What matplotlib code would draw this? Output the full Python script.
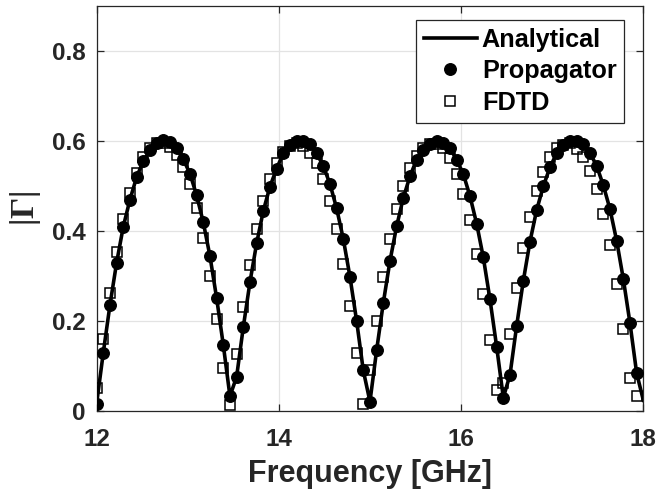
import numpy as np
import matplotlib
matplotlib.use("Agg")
import matplotlib.pyplot as plt

# Frequency sweep: 12-18 GHz, 82 equal steps
freq_line = np.linspace(12.0, 18.0, 83)
freq_pts = freq_line[:-1]

gamma_analytical = [
    0.017, 0.130, 0.236, 0.330, 0.410, 0.470, 0.520, 0.556, 0.580, 0.596,
    0.602, 0.598, 0.584, 0.560, 0.528, 0.480, 0.420, 0.345, 0.252, 0.148,
    0.034, 0.077, 0.187, 0.287, 0.373, 0.445, 0.499, 0.539, 0.573, 0.591,
    0.600, 0.601, 0.593, 0.573, 0.545, 0.505, 0.451, 0.383, 0.299, 0.201,
    0.091, 0.022, 0.136, 0.241, 0.334, 0.411, 0.474, 0.522, 0.559, 0.580,
    0.594, 0.601, 0.597, 0.584, 0.559, 0.527, 0.478, 0.417, 0.342, 0.249,
    0.144, 0.031, 0.081, 0.190, 0.290, 0.377, 0.447, 0.500, 0.542, 0.573,
    0.591, 0.601, 0.601, 0.593, 0.574, 0.545, 0.502, 0.449, 0.379, 0.294,
    0.196, 0.085, 0.025,
]

gamma_propagator = [
    0.017, 0.130, 0.236, 0.330, 0.410, 0.470, 0.520, 0.556, 0.580, 0.596,
    0.602, 0.598, 0.584, 0.560, 0.528, 0.480, 0.420, 0.345, 0.252, 0.148,
    0.034, 0.077, 0.187, 0.287, 0.373, 0.445, 0.499, 0.539, 0.573, 0.591,
    0.600, 0.601, 0.593, 0.573, 0.545, 0.505, 0.451, 0.383, 0.299, 0.201,
    0.091, 0.022, 0.136, 0.241, 0.334, 0.411, 0.474, 0.522, 0.559, 0.580,
    0.594, 0.601, 0.597, 0.584, 0.559, 0.527, 0.478, 0.417, 0.342, 0.249,
    0.144, 0.031, 0.081, 0.190, 0.290, 0.377, 0.447, 0.500, 0.542, 0.573,
    0.591, 0.601, 0.601, 0.593, 0.574, 0.545, 0.502, 0.449, 0.379, 0.294,
    0.196, 0.085,
]

gamma_fdtd = [
    0.053, 0.162, 0.264, 0.355, 0.427, 0.486, 0.530, 0.564, 0.584, 0.595,
    0.595, 0.586, 0.569, 0.542, 0.504, 0.451, 0.384, 0.301, 0.205, 0.096,
    0.014, 0.127, 0.232, 0.325, 0.404, 0.467, 0.515, 0.552, 0.575, 0.590,
    0.595, 0.590, 0.573, 0.552, 0.515, 0.468, 0.406, 0.327, 0.235, 0.129,
    0.017, 0.092, 0.201, 0.298, 0.382, 0.449, 0.500, 0.541, 0.567, 0.585,
    0.594, 0.594, 0.585, 0.562, 0.527, 0.483, 0.425, 0.349, 0.261, 0.159,
    0.048, 0.063, 0.173, 0.273, 0.362, 0.432, 0.490, 0.532, 0.564, 0.584,
    0.592, 0.595, 0.582, 0.564, 0.534, 0.493, 0.438, 0.369, 0.283, 0.183,
    0.074, 0.034,
]

x_ticks = [12, 14, 16, 18]
y_ticks = [0, 0.2, 0.4, 0.6, 0.8]
y_tick_labels = ["0", "0.2", "0.4", "0.6", "0.8"]

TXT = "#262626"
plt.rcParams["font.family"] = ["Liberation Sans", "DejaVu Sans"]
plt.rcParams["font.weight"] = "bold"
plt.rcParams["mathtext.fontset"] = "custom"
plt.rcParams["mathtext.rm"] = "Liberation Serif"
plt.rcParams["mathtext.bf"] = "Liberation Serif:bold"

fig = plt.figure(figsize=(6.58, 4.98), dpi=100)
ax = fig.add_axes([0.1468, 0.1737, 0.8309, 0.8143])

ax.plot(freq_line, gamma_analytical, color="black", lw=2.6,
        label="Analytical", zorder=3)
ax.plot(freq_pts, gamma_propagator, ls="none", marker="o", ms=8.3,
        mfc="black", mec="black", label="Propagator", zorder=4)
ax.plot(freq_pts, gamma_fdtd, ls="none", marker="s", ms=7.5,
        mfc="none", mec="black", mew=1.1, label="FDTD", zorder=5)

ax.set_xlim(12, 18)
ax.set_ylim(0, 0.9)
ax.set_xticks(x_ticks)
ax.set_yticks(y_ticks)
ax.set_yticklabels(y_tick_labels)

ax.grid(True, color="#e3e3e3", lw=0.9)
ax.set_axisbelow(True)
ax.tick_params(direction="in", length=5, width=0.9, colors=TXT,
               labelsize=17.5, top=True, right=True)
ax.tick_params(axis="x", pad=12)
ax.tick_params(axis="y", pad=8)
for lab in ax.get_xticklabels() + ax.get_yticklabels():
    lab.set_fontweight("bold")
for sp in ax.spines.values():
    sp.set_color(TXT)
    sp.set_linewidth(0.9)

ax.set_xlabel("Frequency [GHz]", fontsize=22, fontweight="bold",
              color=TXT, labelpad=6)
ax.set_ylabel(r"$\mathbf{|}\Gamma\mathbf{|}$", fontsize=24, color=TXT,
              labelpad=6)

leg = ax.legend(loc="upper right", bbox_to_anchor=(0.965, 0.965),
                borderaxespad=0, fancybox=False, framealpha=1,
                edgecolor=TXT, fontsize=18.2, handlelength=2.1,
                handletextpad=0.2, labelspacing=0.3, borderpad=0.3)
leg.get_frame().set_linewidth(0.9)
for t in leg.get_texts():
    t.set_fontweight("bold")
    t.set_color("black")

fig.savefig("out.png", dpi=100)
